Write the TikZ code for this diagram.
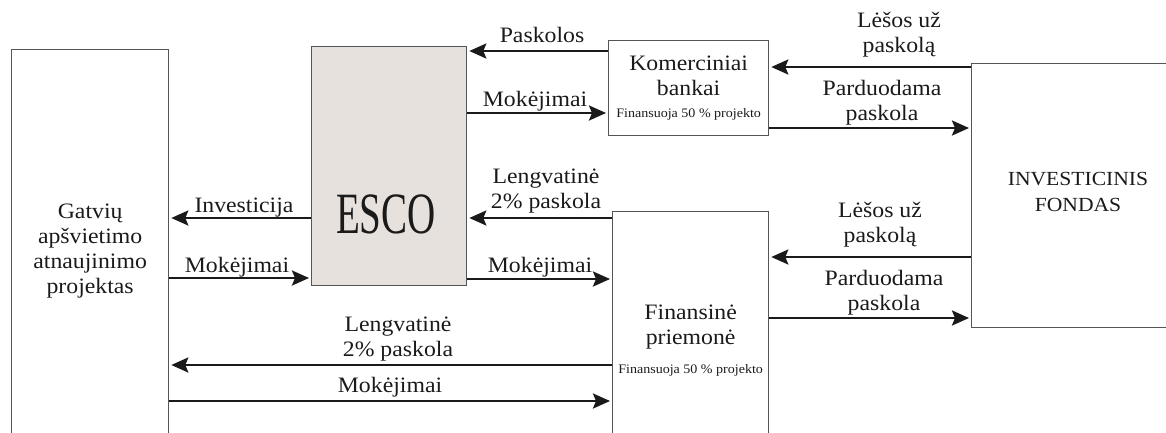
\documentclass[tikz,border=0pt]{standalone}
\usepackage{fontspec}
\usepackage{graphicx}
\setmainfont[FakeStretch=1.08]{Liberation Serif}
\newfontfamily\escofont{Liberation Serif}
\usetikzlibrary{arrows.meta}
\definecolor{boxgray}{HTML}{555555}
\definecolor{arrblack}{HTML}{1A1A1A}
\definecolor{escofill}{HTML}{E6E1DC}
\definecolor{txt}{HTML}{1A1A1A}
\begin{document}
\begin{tikzpicture}[x=1pt,y=-1pt,
  box/.style={draw=boxgray, line width=1.3pt, inner sep=0pt, align=center, anchor=north west,
    font=\fontsize{22}{25}\selectfont, text=txt},
  arr/.style={draw=arrblack, line width=2.6pt, shorten >=2pt,
    -{Stealth[length=17pt,width=15pt,inset=3pt]}},
  lbl/.style={font=\fontsize{22}{25}\selectfont, inner sep=0pt, anchor=base, align=center, text=txt}]
\useasboundingbox (0,0) rectangle (1166,432);
\clip (0,0) rectangle (1166,432);
% boxes
\node[box, minimum width=157pt, minimum height=402pt] (gat) at (11,49)
  {Gatvių\\apšvietimo\\atnaujinimo\\projektas};
\node[box, fill=escofill, minimum width=155pt, minimum height=239pt] (esco) at (311,46) {};
\node[lbl, font=\fontsize{39}{44}\escofont] (escot) at (386,233) {\scalebox{1}[1.5]{ESCO}};
\node[box, minimum width=160pt, minimum height=95pt] (kb) at (608,40)
  {Komerciniai\\bankai\\[-3pt]{\fontsize{13}{15}\selectfont Finansuoja 50 \% projekto}};
\node[box, minimum width=156pt, minimum height=258pt] (fin) at (612,211)
  {Finansinė\\priemonė\\[4pt]{\fontsize{13}{15}\selectfont Finansuoja 50 \% projekto}};
\node[box, minimum width=214pt, minimum height=264pt] (inv) at (971,63) {};
\node[lbl, font=\fontsize{20}{26}\selectfont] (invt) at (1078,211) {INVESTICINIS\\FONDAS};
% arrows
\draw[arr] (kb.west |- 0,51) -- (esco.east |- 0,51);
\draw[arr] (esco.east |- 0,113) -- (kb.west |- 0,113);
\draw[arr] (fin.west |- 0,218) -- (esco.east |- 0,218);
\draw[arr] (esco.west |- 0,218) -- (gat.east |- 0,218);
\draw[arr] (gat.east |- 0,278) -- (esco.west |- 0,278);
\draw[arr] (esco.east |- 0,279) -- (fin.west |- 0,279);
\draw[arr] (fin.west |- 0,365) -- (gat.east |- 0,365);
\draw[arr] (gat.east |- 0,401) -- (fin.west |- 0,401);
\draw[arr] (inv.west |- 0,67) -- (kb.east |- 0,67);
\draw[arr] (kb.east |- 0,128) -- (inv.west |- 0,128);
\draw[arr] (inv.west |- 0,257) -- (fin.east |- 0,257);
\draw[arr] (fin.east |- 0,318) -- (inv.west |- 0,318);
% labels
\node[lbl] (l1) at (542,42) {Paskolos};
\node[lbl] (l2) at (535,106) {Mokėjimai};
\node[lbl] (l3) at (546,208) {Lengvatinė\\2\% paskola};
\node[lbl] (l4) at (244,212) {Investicija};
\node[lbl] (l5) at (237,272) {Mokėjimai};
\node[lbl] (l6) at (540,272) {Mokėjimai};
\node[lbl] (l7) at (398,356) {Lengvatinė\\2\% paskola};
\node[lbl] (l8) at (390,392) {Mokėjimai};
\node[lbl] (l9) at (899,52) {Lėšos už\\paskolą};
\node[lbl] (l10) at (882,120) {Parduodama\\paskola};
\node[lbl] (l11) at (880,242) {Lėšos už\\paskolą};
\node[lbl] (l12) at (884,310) {Parduodama\\paskola};
\end{tikzpicture}
\end{document}
